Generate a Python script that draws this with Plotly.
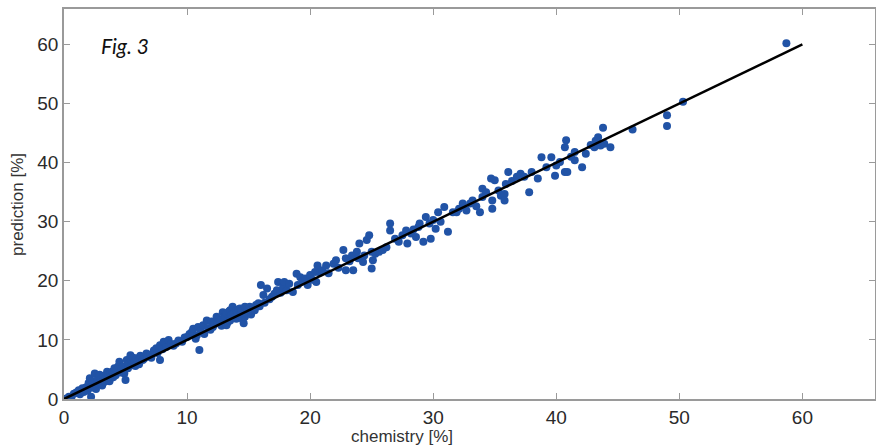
import plotly.graph_objects as go

# ---------- data (chemistry vs prediction, %) ----------
chem_0_5 = [0.2, 0.4, 0.6, 0.8, 1.0, 1.2, 1.3, 1.5, 1.6, 1.8, 1.9, 2.0, 2.1, 2.2, 2.2, 2.3, 2.4, 2.5, 2.6, 2.7,
            2.8, 2.9, 3.0, 3.1, 3.2, 3.3, 3.4, 3.5, 3.6, 3.7, 3.8, 3.9, 4.0, 4.1, 4.2, 4.3, 4.4, 4.5, 4.6, 4.7,
            4.8, 4.9, 5.0]
pred_0_5 = [0.1, 0.4, 0.3, 0.9, 1.1, 1.5, 0.8, 1.8, 1.2, 2.0, 1.4, 2.7, 3.5, 0.4, 1.9, 3.0, 2.1, 4.3, 1.7, 3.2,
            2.6, 4.1, 3.4, 2.3, 3.9, 2.9, 3.6, 4.6, 4.1, 3.0, 4.4, 4.6, 3.7, 5.2, 4.0, 4.9, 5.5, 6.3, 4.5, 5.1,
            5.5, 4.3, 3.2]

chem_5_10 = [5.1, 5.2, 5.3, 5.4, 5.5, 5.5, 5.6, 5.7, 5.8, 5.9, 6.0, 6.1, 6.2, 6.3, 6.4, 6.5, 6.7, 6.8, 7.0, 7.1,
             7.3, 7.5, 7.6, 7.8, 7.8, 8.0, 8.1, 8.3, 8.5, 8.7, 8.9, 9.1, 9.3, 9.6, 9.8, 10.0]
pred_5_10 = [6.6, 5.2, 6.0, 7.4, 5.7, 6.5, 7.0, 6.2, 5.6, 6.9, 6.4, 5.9, 7.3, 7.1, 6.6, 6.8, 7.7, 7.2, 7.5, 7.0,
             8.2, 8.6, 7.8, 9.1, 6.6, 8.4, 9.7, 8.8, 10.0, 9.3, 9.0, 9.4, 9.9, 9.7, 10.4, 10.5]

chem_10_16 = [10.2, 10.4, 10.5, 10.7, 10.8, 10.9, 11.0, 11.1, 11.3, 11.4, 11.6, 11.7, 11.9, 12.0, 12.1, 12.2,
              12.4, 12.5, 12.6, 12.7, 12.8, 12.9, 13.0, 13.1, 13.2, 13.2, 13.3, 13.4, 13.5, 13.5, 13.6, 13.7,
              13.8, 13.9, 14.0, 14.0, 14.1, 14.2, 14.3, 14.3, 14.4, 14.5, 14.6, 14.7, 14.7, 14.8, 14.9, 15.0,
              15.1, 15.2, 15.3, 15.4, 15.5, 15.6, 15.8, 15.9]
pred_10_16 = [11.0, 11.4, 11.9, 10.2, 10.8, 12.2, 8.3, 11.5, 12.5, 11.0, 13.3, 12.0, 11.7, 13.1, 12.2, 12.6,
              13.9, 12.9, 13.5, 13.3, 12.4, 14.7, 13.8, 14.0, 14.5, 12.5, 13.0, 14.8, 15.0, 13.3, 14.2, 15.6,
              14.4, 13.9, 15.0, 13.6, 14.6, 15.2, 15.3, 14.2, 14.9, 13.5, 12.8, 15.6, 13.9, 14.5, 15.1, 14.7,
              15.6, 14.3, 14.9, 15.4, 15.0, 15.9, 16.2, 15.7]

chem_16_21 = [16.0, 16.2, 16.3, 16.5, 16.7, 16.9, 17.1, 17.3, 17.4, 17.6, 17.8, 17.9, 18.1, 18.3, 18.6, 18.9,
              19.0, 19.2, 19.4, 19.6, 19.8, 20.0, 20.2, 20.4, 20.5, 20.6, 20.8, 21.0]
pred_16_21 = [19.3, 17.6, 16.3, 18.7, 16.9, 17.3, 17.8, 18.4, 19.8, 18.0, 18.9, 19.8, 18.4, 19.5, 18.1, 21.2,
              19.3, 20.6, 19.9, 20.4, 19.3, 21.0, 20.2, 21.5, 19.8, 22.6, 21.4, 21.8]

chem_21_31 = [21.3, 21.5, 21.9, 22.1, 22.3, 22.7, 22.9, 22.9, 23.2, 23.4, 23.5, 23.8, 23.9, 24.0, 24.3, 24.4,
              24.6, 24.8, 25.0, 25.0, 25.1, 25.3, 25.6, 25.9, 26.2, 26.5, 26.5, 26.9, 27.2, 27.5, 27.8, 27.9,
              28.2, 28.4, 28.6, 28.8, 28.9, 29.2, 29.4, 29.7, 29.8, 30.0, 30.2, 30.4, 30.6, 30.9, 31.2]
pred_21_31 = [22.6, 21.3, 22.9, 23.5, 22.2, 25.2, 23.8, 21.8, 23.3, 24.3, 21.8, 24.9, 23.8, 26.3, 23.2, 24.3,
              26.9, 27.7, 24.9, 22.1, 23.5, 24.6, 24.9, 25.2, 25.7, 28.5, 29.7, 27.1, 26.6, 27.7, 28.5, 26.3,
              28.0, 28.7, 27.4, 29.1, 29.7, 26.6, 30.8, 29.7, 27.1, 30.3, 28.8, 31.6, 30.0, 32.5, 28.3]

chem_31_45 = [31.6, 31.9, 32.1, 32.4, 32.7, 33.0, 33.2, 33.5, 33.8, 34.0, 34.0, 34.3, 34.7, 34.8, 34.8, 35.0,
              35.3, 35.5, 35.8, 35.8, 35.9, 36.1, 36.4, 36.8, 37.1, 37.4, 37.8, 38.0, 38.5, 38.8, 39.2, 39.6,
              39.9, 40.0, 40.3, 40.7, 40.7, 40.8, 40.9, 41.2, 41.5, 41.5, 42.1, 42.4, 42.8, 43.1, 43.2, 43.4,
              43.6, 43.8, 43.9, 44.4]
pred_31_45 = [31.6, 31.6, 32.2, 33.1, 31.9, 33.1, 33.6, 32.6, 31.6, 35.6, 34.2, 35.0, 37.3, 33.6, 32.2, 37.0,
              35.3, 34.4, 34.7, 33.6, 36.4, 38.4, 36.9, 37.6, 38.1, 37.6, 35.0, 38.4, 37.3, 40.9, 39.2, 40.9,
              37.8, 39.5, 40.1, 42.6, 38.4, 43.8, 38.4, 41.0, 41.8, 40.4, 39.2, 41.5, 43.0, 42.6, 43.7, 44.3,
              42.9, 45.9, 43.2, 42.6]

chem_high = [46.2, 49.0, 49.0, 50.3, 58.7]
pred_high = [45.6, 48.0, 46.2, 50.3, 60.2]

ideal_line = [0, 60]
ticks = [0, 10, 20, 30, 40, 50, 60]

chemistry = chem_0_5 + chem_5_10 + chem_10_16 + chem_16_21 + chem_21_31 + chem_31_45 + chem_high
prediction = pred_0_5 + pred_5_10 + pred_10_16 + pred_16_21 + pred_21_31 + pred_31_45 + pred_high

# ---------- figure ----------
fig = go.Figure()
fig.add_trace(go.Scatter(x=chemistry, y=prediction, mode='markers',
                         marker=dict(color='#2153a6', size=8, line=dict(width=0)),
                         showlegend=False))
fig.add_trace(go.Scatter(x=ideal_line, y=ideal_line, mode='lines',
                         line=dict(color='black', width=2.5), showlegend=False))

axis_style = dict(showgrid=False, zeroline=False, showline=True, linecolor='#9a9a9a', linewidth=1.5,
                  mirror='ticks', ticks='inside', ticklen=6, tickcolor='#9a9a9a', tickvals=ticks,
                  automargin=False,
                  tickfont=dict(family='Liberation Sans, Arial', size=19, color='#2a2a2a'))

fig.update_xaxes(range=[0, 65.9], **axis_style)
fig.update_yaxes(range=[0, 66], **axis_style)

fig.update_layout(width=876, height=447, plot_bgcolor='white', paper_bgcolor='white',
                  margin=dict(l=64, r=1, t=9, b=48, autoexpand=False),
                  font=dict(family='Liberation Sans, Arial', color='#333333'),
                  annotations=[
                      dict(text='chemistry [%]', xref='paper', yref='paper', x=0.417, y=-0.097,
                           xanchor='center', yanchor='middle', showarrow=False,
                           font=dict(size=17, color='#333333')),
                      dict(text='prediction [%]', xref='paper', yref='paper', x=-0.058, y=0.5,
                           xanchor='center', yanchor='middle', textangle=-90, showarrow=False,
                           font=dict(size=17, color='#333333')),
                      dict(text='<i>Fig. 3</i>', xref='paper', yref='paper', x=0.043, y=0.906,
                           xanchor='left', yanchor='middle', showarrow=False,
                           font=dict(family='Lato, Open Sans', size=21, color='#111111')),
                  ])

# the page body has a default 8px margin, drop it so the figure sits at the corner
fig.write_html('out.html', config={'displayModeBar': False},
               post_script="document.body.style.margin='0';")
